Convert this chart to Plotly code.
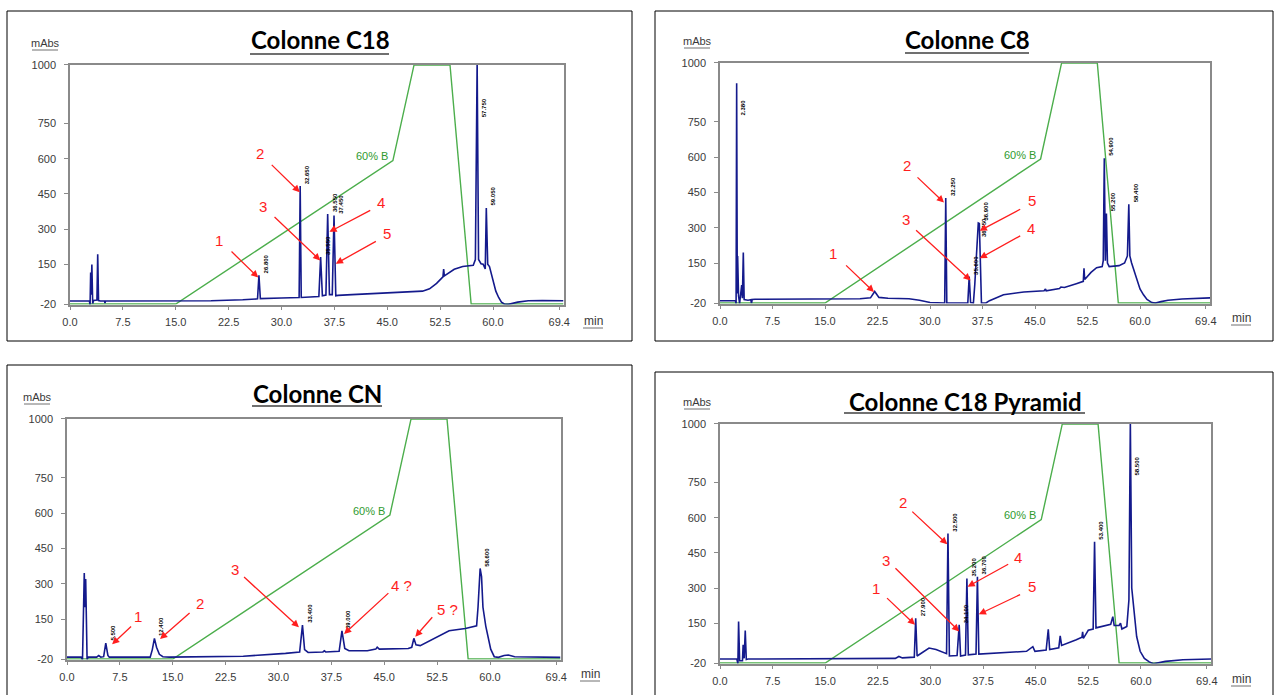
import plotly.graph_objects as go

W, H = 1275, 695

# ---------------- data ----------------
x_tickvals = [0, 7.5, 15, 22.5, 30, 37.5, 45, 52.5, 60, 69.4]
x_ticktext = ["0.0", "7.5", "15.0", "22.5", "30.0", "37.5", "45.0", "52.5", "60.0", "69.4"]
y_tickvals = [-20, 150, 300, 450, 600, 750, 1000]
y_ticktext = ["-20", "150", "300", "450", "600", "750", "1000"]

titles = ["Colonne C18", "Colonne C8", "Colonne CN", "Colonne C18 Pyramid"]

# gradient (%B drawn on the mAbs scale: 0 % -> -20, 60 % -> 592, 100 % -> 1000)
gradient_t = [0, 15.0, 45.8, 48.8, 53.9, 56.9, 70]
gradient_y = [-20, -20, 592, 1000, 1000, -20, -20]

# chromatogram vertices (time in min, absorbance in mAbs)
c18_t = [0, 2.75, 2.85, 2.93, 3.0, 3.1, 3.22, 3.35, 3.82, 3.93, 4.05, 4.3, 4.9, 4.96, 5.05, 10, 20, 24.5,
         26.6, 26.8, 27.0, 30, 32.5, 32.65, 32.8, 35.3, 35.55, 35.8, 36.3, 36.55, 36.8, 37.2, 37.45, 37.7,
         38.0, 40, 45, 48, 50, 51, 52, 52.9, 53.0, 53.1, 54.5, 55.7, 57.2, 57.5, 57.75, 57.95, 58.3, 58.6,
         58.9, 59.05, 59.25, 59.5, 59.8, 60.1, 60.4, 60.8, 61.2, 61.6, 62.2, 63.5, 65, 67, 70]
c18_a = [-7, -7, -22, 114, 20, 149, -18, -5, -3, 192, -5, -7, -7, -16, -7, -7, -6, -2,
         2, 103, 3, 6, 8, 484, 8, 12, 180, 15, 18, 364, 20, 20, 358, 15,
         17, 20, 26, 30, 35, 45, 68, 96, 129, 100, 128, 140, 145, 170, 1010, 170, 152, 150,
         130, 390, 150, 140, 105, 65, 35, 8, -12, -20, -21, -12, -6, -5, -6]

c8_t = [0, 2.2, 2.3, 2.38, 2.47, 2.52, 2.65, 2.8, 3.1, 3.2, 3.33, 3.45, 4.0, 4.4, 4.5, 4.6, 5, 10, 20,
        21.5, 22.1, 22.7, 24, 27, 28.5, 30, 31.9, 32.1, 32.25, 32.4, 35.4, 35.6, 35.8, 36.2, 36.4, 36.6,
        36.75, 36.9, 37.05, 37.2, 37.35, 38, 38.5, 40.5, 43.4, 46.3, 46.5, 46.6, 48.5, 48.7, 49.2, 50.9,
        51.9, 52.0, 52.1, 53.0, 53.8, 54.6, 54.75, 54.9, 55.05, 55.2, 55.35, 55.6, 57, 57.8, 58.2, 58.4,
        58.55, 58.8, 59.2, 59.6, 60, 60.5, 61, 61.7, 62.2, 63, 64, 66, 70]
c8_a = [-10, -10, -22, 914, 20, 180, 10, -22, 56, 0, 195, -5, -8, -6, -20, -5, -4, -3, -2,
        2, 29, 4, 0, -2, -8, -18, -20, -20, 426, -20, -20, 93, -18, -20, 60, 168,
        250, 320, 318, 150, -20, -20, -10, 15, 27, 32, 40, 32, 42, 48, 46, 62,
        72, 128, 80, 110, 130, 135, 160, 595, 160, 360, 150, 135, 139, 150, 180, 400,
        180, 150, 110, 70, 40, 15, -5, -18, -20, -14, -8, -3, 2]

cn_t = [0, 2.0, 2.2, 2.35, 2.45, 2.55, 2.65, 2.75, 2.85, 3.0, 4.2, 4.5, 4.8, 5.2, 5.5, 5.8, 6.0, 11.8,
        12.1, 12.4, 12.7, 13.1, 13.6, 14.5, 25, 31, 33.0, 33.4, 33.7, 34.2, 36.3, 36.5, 36.7, 38.6, 39.0,
        39.4, 40, 42.6, 43.8, 44.0, 44.3, 48.4, 48.9, 49.2, 49.5, 50.1, 51.9, 54.2, 56.5, 58.1, 58.3,
        58.6, 58.8, 59.0, 59.4, 59.8, 60.1, 60.6, 61.2, 62.0, 62.6, 63.5, 70]
cn_a = [-12, -12, -22, 190, 345, 200, 320, 150, -22, -12, -12, -5, -12, -10, 48, -5, -12, -12,
        20, 68, 30, 0, -10, -12, -8, 4, 10, 124, 20, 8, 10, 15, 10, 13, 100,
        25, 15, 15, 22, 30, 22, 25, 30, 68, 40, 37, 65, 100, 110, 121, 200,
        365, 330, 200, 120, 60, 22, -10, -13, -5, -3, -10, -13]

pyr_t = [0, 2.4, 2.55, 2.65, 2.8, 3.2, 3.3, 3.45, 3.6, 3.75, 4, 25, 25.5, 26, 27.7, 27.9, 28.1, 28.8,
         29.8, 30.8, 32.3, 32.5, 32.7, 33.8, 34.1, 34.3, 35.0, 35.2, 35.4, 36.5, 36.7, 36.9, 38, 40,
         43.7, 44.6, 44.9, 46.5, 46.8, 47.0, 48.3, 48.5, 48.7, 50.8, 51.6, 51.7, 51.8, 52.3, 52.5, 53.2,
         53.4, 53.6, 54.3, 55.7, 56.0, 56.2, 56.9, 57.1, 57.3, 58.0, 58.3, 58.5, 58.7, 59.0, 59.4, 59.9,
         60.5, 61.2, 61.8, 63.5, 66, 70]
pyr_a = [-3, -3, -22, 157, -10, -10, 58, 0, 119, -5, -3, 0, 8, 2, 5, 171, 10, 25,
         44, 38, 20, 533, 10, 12, 143, 10, 14, 341, 15, 18, 348, 18, 20, 24,
         30, 50, 30, 35, 124, 38, 45, 96, 55, 79, 90, 113, 85, 110, 120, 125,
         497, 130, 136, 145, 178, 140, 140, 150, 125, 136, 250, 1010, 300, 200, 93, 30,
         0, -15, -23, -13, -6, -3]

# retention-time labels (peak time, apex)
c18_pk_t = [26.8, 32.65, 35.55, 36.55, 37.45, 57.75, 59.05]
c18_pk_a = [103, 484, 180, 364, 358, 1010, 390]
c8_pk_t = [2.38, 32.25, 35.6, 36.75, 36.9, 54.9, 55.2, 58.4]
c8_pk_a = [914, 426, 93, 250, 320, 595, 360, 400]
cn_pk_t = [5.5, 12.4, 33.4, 39.0, 58.6]
cn_pk_a = [48, 68, 124, 100, 365]
pyr_pk_t = [27.9, 32.5, 34.1, 35.2, 36.7, 53.4, 58.5]
pyr_pk_a = [171, 533, 143, 341, 348, 497, 1010]

# compound labels: text, label position, arrow tail, arrow head
c18_lbl = ["1", "2", "3", "4", "5"]
c18_lbl_xy = [(21.1, 253), (27.0, 623), (27.4, 397), (44.1, 414), (44.9, 279)]
c18_tail = [(22.7, 210), (28.4, 580), (28.8, 357), (42.8, 383), (43.6, 251)]
c18_head = [(26.7, 93), (32.6, 457), (35.5, 166), (36.8, 288), (37.7, 152)]

c8_lbl = ["1", "2", "3", "5", "4"]
c8_lbl_xy = [(16.2, 189), (26.7, 565), (26.5, 337), (44.6, 414), (44.4, 297)]
c8_tail = [(17.8, 146), (28.0, 520), (27.8, 295), (43.1, 382), (43.1, 269)]
c8_head = [(22.0, 27), (32.0, 407), (35.8, 76), (37.1, 287), (37.1, 170)]

cn_lbl = ["1", "2", "3", "4 ?", "5 ?"]
cn_lbl_xy = [(10.0, 161), (18.8, 218), (23.8, 362), (47.5, 292), (54.0, 192)]
cn_tail = [(9.3, 124), (17.6, 181), (24.9, 334), (45.8, 266), (52.0, 164)]
cn_head = [(6.4, 43), (13.2, 65), (32.9, 115), (39.3, 86), (49.4, 75)]

pyr_lbl = ["1", "2", "3", "4", "5"]
pyr_lbl_xy = [(22.3, 299), (26.1, 664), (23.6, 419), (42.5, 430), (44.5, 306)]
pyr_tail = [(23.6, 263), (27.2, 632), (24.8, 391), (41.3, 405), (43.0, 275)]
pyr_head = [(27.8, 143), (32.4, 487), (34.1, 115), (35.3, 306), (36.9, 188)]

# ---------------- layout helpers ----------------
def px(x):
    return x / W

def py(y):
    return 1 - y / H

panels = [
    dict(t=c18_t, a=c18_a, pk_t=c18_pk_t, pk_a=c18_pk_a, lbl=c18_lbl, lxy=c18_lbl_xy, tail=c18_tail, head=c18_head,
         plot=(70, 563.5, 64.5, 304.5), box=(7, 632, 11, 341), title_xy=(320, 40), title_ul=(250, 389, 54),
         mabs=(45, 43), min_xy=(593, 321)),
    dict(t=c8_t, a=c8_a, pk_t=c8_pk_t, pk_a=c8_pk_a, lbl=c8_lbl, lxy=c8_lbl_xy, tail=c8_tail, head=c8_head,
         plot=(720, 1210, 62.5, 303.5), box=(655, 1273, 11, 341), title_xy=(967, 40), title_ul=(905, 1029, 53),
         mabs=(697, 41), min_xy=(1241, 318)),
    dict(t=cn_t, a=cn_a, pk_t=cn_pk_t, pk_a=cn_pk_a, lbl=cn_lbl, lxy=cn_lbl_xy, tail=cn_tail, head=cn_head,
         plot=(67, 560.5, 418.5, 659.5), box=(7, 632, 365, 700), title_xy=(317, 393), title_ul=(252, 382, 406),
         mabs=(37, 397), min_xy=(590, 674)),
    dict(t=pyr_t, a=pyr_a, pk_t=pyr_pk_t, pk_a=pyr_pk_a, lbl=pyr_lbl, lxy=pyr_lbl_xy, tail=pyr_tail, head=pyr_head,
         plot=(720, 1211, 423.5, 663.5), box=(655, 1273, 372, 700), title_xy=(965, 401), title_ul=(844, 1085, 413),
         mabs=(697, 402), min_xy=(1241, 679)),
]

BLUE = "#141a8c"
GREEN = "#4cae4c"
RED = "#ff1e1e"
GREY = "#8a8a8a"
TXT = "#3a3a3a"

fig = go.Figure()
annotations = []
shapes = []

for i, p in enumerate(panels):
    n = "" if i == 0 else str(i + 1)
    xa, ya = "x" + n, "y" + n
    x0, x1, y0, y1 = p["plot"]
    fig.add_trace(go.Scatter(x=gradient_t, y=gradient_y, mode="lines", xaxis=xa, yaxis=ya,
                             line=dict(color=GREEN, width=1.4), hoverinfo="skip", showlegend=False))
    fig.add_trace(go.Scatter(x=p["t"], y=p["a"], mode="lines", xaxis=xa, yaxis=ya,
                             line=dict(color=BLUE, width=1.6), showlegend=False))
    axis_common = dict(showgrid=False, zeroline=False, showline=True, mirror=True, linecolor=GREY,
                       linewidth=1.5, ticks="outside", tickcolor=GREY, ticklen=4, automargin=False,
                       tickfont=dict(family="Liberation Sans, Arial", size=11, color=TXT))
    fig.update_layout(**{
        ("xaxis" + n): dict(domain=[px(x0), px(x1)], anchor=ya, range=[0, 70], tickvals=x_tickvals,
                            ticktext=x_ticktext, ticklabelstandoff=3, **axis_common),
        ("yaxis" + n): dict(domain=[py(y1), py(y0)], anchor=xa, range=[-22, 1002], tickvals=y_tickvals,
                            ticktext=y_ticktext, ticklabelstandoff=6, **axis_common),
    })
    # retention-time labels
    for t, a in zip(p["pk_t"], p["pk_a"]):
        annotations.append(dict(x=t + 0.25, y=min(a, 770), xref=xa, yref=ya, text=f"{t:.3f}",
                                textangle=-90, showarrow=False, xanchor="left", yanchor="bottom",
                                font=dict(family="Liberation Sans Narrow, Liberation Sans", size=6,
                                          color="black", weight=700)))
    # compound arrows and numbers
    for txt, (lx, ly), (tx, ty), (hx, hy) in zip(p["lbl"], p["lxy"], p["tail"], p["head"]):
        annotations.append(dict(x=hx, y=hy, ax=tx, ay=ty, xref=xa, yref=ya, axref=xa, ayref=ya,
                                text="", showarrow=True, arrowhead=2, arrowsize=1.1, arrowwidth=1.3,
                                arrowcolor=RED))
        annotations.append(dict(x=lx, y=ly, xref=xa, yref=ya, text=txt, showarrow=False,
                                xanchor="center", yanchor="middle",
                                font=dict(family="Liberation Sans, Arial", size=15, color=RED)))
    # 60% B
    annotations.append(dict(x=45.4, y=611, xref=xa, yref=ya, text="60% B", showarrow=False,
                            xanchor="right", yanchor="middle",
                            font=dict(family="Liberation Sans, Arial", size=11, color="#2f9a2f")))
    # title
    tx_, ty_ = p["title_xy"]
    annotations.append(dict(x=px(tx_), y=py(ty_), xref="paper", yref="paper", text=titles[i], showarrow=False,
                            xanchor="center", yanchor="middle",
                            font=dict(family="Lato", size=24, color="black", weight=700)))
    ux0, ux1, uy = p["title_ul"]
    shapes.append(dict(type="line", xref="paper", yref="paper", x0=px(ux0), x1=px(ux1), y0=py(uy), y1=py(uy),
                       line=dict(color="#707070", width=2)))
    # mAbs
    mx, my = p["mabs"]
    annotations.append(dict(x=px(mx), y=py(my), xref="paper", yref="paper", text="mAbs", showarrow=False,
                            xanchor="center", yanchor="middle",
                            font=dict(family="Liberation Sans, Arial", size=11, color=TXT)))
    shapes.append(dict(type="line", xref="paper", yref="paper", x0=px(mx - 13), x1=px(mx + 13),
                       y0=py(my + 7), y1=py(my + 7), line=dict(color="#707070", width=1)))
    # min
    nx, ny = p["min_xy"]
    annotations.append(dict(x=px(nx), y=py(ny), xref="paper", yref="paper", text="min", showarrow=False,
                            xanchor="center", yanchor="middle",
                            font=dict(family="Liberation Sans, Arial", size=12, color=TXT)))
    shapes.append(dict(type="line", xref="paper", yref="paper", x0=px(nx - 10), x1=px(nx + 10),
                       y0=py(ny + 7), y1=py(ny + 7), line=dict(color="#707070", width=1)))
    # outer frame
    bx0, bx1, by0, by1 = p["box"]
    shapes.append(dict(type="rect", xref="paper", yref="paper", x0=px(bx0), x1=px(bx1), y0=py(by1), y1=py(by0),
                       line=dict(color="black", width=1), layer="below"))

fig.update_layout(width=W, height=H, margin=dict(l=0, r=0, t=0, b=0, pad=0, autoexpand=False),
                  paper_bgcolor="white", plot_bgcolor="white", annotations=annotations, shapes=shapes,
                  showlegend=False)
fig.write_html("out.html", config={"displayModeBar": False},
               post_script="document.body.style.margin='0';document.body.style.overflow='hidden';"
                           "document.documentElement.style.overflow='hidden';")
